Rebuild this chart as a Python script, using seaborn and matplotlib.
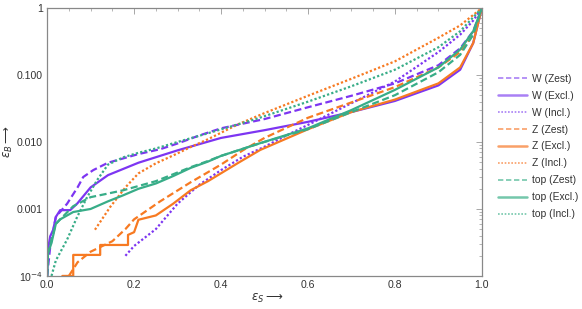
"""
Signal vs background efficiency curves (W / Z / top taggers).
"""

import matplotlib

matplotlib.use("Agg")
import matplotlib.pyplot as plt
import matplotlib.ticker as mticker
from matplotlib.lines import Line2D
import numpy as np
import pandas as pd
import seaborn as sns

# --- data (eps_S, eps_B) ---
w_zest_s = [0.0, 0.007, 0.02, 0.046, 0.07, 0.083, 0.106, 0.14, 0.21, 0.26, 0.3, 0.35, 0.4, 0.5, 0.6, 0.7, 0.8, 0.9, 0.95, 0.98, 1.0]
w_zest_b = [1e-4, 2.7e-4, 7.6e-4, 1.2e-3, 2.1e-3, 3.0e-3, 3.8e-3, 4.9e-3, 6.6e-3, 7.8e-3, 9.5e-3, 1.25e-2, 1.6e-2, 2.2e-2, 3.3e-2, 4.9e-2, 7.5e-2, 0.14, 0.25, 0.45, 1.0]

w_excl_s = [0.0, 0.002, 0.007, 0.014, 0.02, 0.03, 0.053, 0.069, 0.1, 0.14, 0.21, 0.3, 0.4, 0.5, 0.6, 0.7, 0.8, 0.9, 0.95, 0.98, 1.0]
w_excl_b = [1e-4, 2.5e-4, 3.9e-4, 4.9e-4, 7.6e-4, 9.6e-4, 9.6e-4, 1.2e-3, 2.1e-3, 3.2e-3, 4.9e-3, 7.5e-3, 1.15e-2, 1.5e-2, 2.0e-2, 2.8e-2, 4.1e-2, 7.0e-2, 0.12, 0.3, 1.0]

w_incl_s = [0.18, 0.2, 0.25, 0.3, 0.35, 0.4, 0.45, 0.5, 0.55, 0.6, 0.7, 0.8, 0.9, 0.95, 0.98, 1.0]
w_incl_b = [2e-4, 2.8e-4, 5e-4, 1.2e-3, 2.3e-3, 3.8e-3, 6e-3, 8.5e-3, 1.25e-2, 1.8e-2, 3.8e-2, 8e-2, 0.22, 0.4, 0.65, 1.0]

z_zest_s = [0.05, 0.07, 0.1, 0.15, 0.18, 0.2, 0.26, 0.33, 0.4, 0.45, 0.5, 0.6, 0.7, 0.8, 0.9, 0.95, 0.98, 1.0]
z_zest_b = [1e-4, 1.6e-4, 2.3e-4, 3.3e-4, 5e-4, 7e-4, 1.3e-3, 2.5e-3, 4.6e-3, 7.5e-3, 1.15e-2, 2.3e-2, 3.9e-2, 6.6e-2, 0.13, 0.22, 0.4, 1.0]

z_excl_s = [0.035, 0.06, 0.06, 0.06, 0.122, 0.122, 0.186, 0.186, 0.2, 0.21, 0.25, 0.29, 0.33, 0.37, 0.44, 0.49, 0.6, 0.7, 0.8, 0.9, 0.95, 0.98, 1.0]
z_excl_b = [1e-4, 1e-4, 1.5e-4, 2.06e-4, 2.06e-4, 2.9e-4, 2.9e-4, 4.1e-4, 4.5e-4, 6.9e-4, 8e-4, 1.2e-3, 1.9e-3, 2.6e-3, 4.9e-3, 7.6e-3, 1.55e-2, 2.8e-2, 4.3e-2, 7.5e-2, 0.13, 0.3, 1.0]

z_incl_s = [0.11, 0.145, 0.18, 0.21, 0.25, 0.29, 0.33, 0.37, 0.44, 0.5, 0.6, 0.7, 0.8, 0.9, 0.95, 1.0]
z_incl_b = [4.9e-4, 1.07e-3, 2.1e-3, 3.4e-3, 4.8e-3, 6.3e-3, 8.4e-3, 1.1e-2, 1.85e-2, 2.7e-2, 4.9e-2, 8.8e-2, 0.16, 0.36, 0.55, 1.0]

top_zest_s = [0.0, 0.002, 0.01, 0.02, 0.03, 0.06, 0.1, 0.14, 0.175, 0.21, 0.25, 0.29, 0.33, 0.37, 0.4, 0.45, 0.49, 0.6, 0.7, 0.8, 0.9, 0.95, 0.98, 1.0]
top_zest_b = [1e-4, 2.2e-4, 3.5e-4, 6e-4, 7e-4, 1.1e-3, 1.5e-3, 1.7e-3, 1.9e-3, 2.2e-3, 2.6e-3, 3.3e-3, 4.2e-3, 5.2e-3, 6.2e-3, 7.9e-3, 9.6e-3, 1.55e-2, 2.8e-2, 5.0e-2, 0.11, 0.2, 0.4, 1.0]

top_excl_s = [0.0, 0.002, 0.01, 0.02, 0.03, 0.06, 0.1, 0.14, 0.175, 0.21, 0.25, 0.29, 0.33, 0.37, 0.4, 0.45, 0.49, 0.6, 0.7, 0.8, 0.9, 0.95, 0.98, 1.0]
top_excl_b = [1e-4, 2.2e-4, 3.1e-4, 6e-4, 7e-4, 9e-4, 1.0e-3, 1.3e-3, 1.6e-3, 2.0e-3, 2.4e-3, 3.1e-3, 4.1e-3, 5.1e-3, 6.2e-3, 7.9e-3, 9.6e-3, 1.6e-2, 3.0e-2, 6.0e-2, 0.13, 0.24, 0.45, 1.0]

top_incl_s = [0.01, 0.02, 0.046, 0.069, 0.092, 0.115, 0.14, 0.175, 0.21, 0.25, 0.3, 0.37, 0.48, 0.6, 0.7, 0.8, 0.9, 0.95, 1.0]
top_incl_b = [1e-4, 1.7e-4, 3.5e-4, 7.6e-4, 1.5e-3, 2.7e-3, 4.6e-3, 5.9e-3, 6.9e-3, 8.0e-3, 1.0e-2, 1.35e-2, 2.2e-2, 4.0e-2, 6.8e-2, 0.12, 0.26, 0.45, 1.0]

x_ticks = [0.0, 0.2, 0.4, 0.6, 0.8, 1.0]
x_tick_labels = ["0.0", "0.2", "0.4", "0.6", "0.8", "1.0"]
y_ticks = [1e-4, 1e-3, 1e-2, 1e-1, 1.0]
y_tick_labels = ["10$^{-4}$", "0.001", "0.010", "0.100", "1"]

PURPLE = "#7d35f2"
ORANGE = "#f77a22"
GREEN = "#38ad88"
LEG_COLORS = {PURPLE: "#a980f5", ORANGE: "#f9a068", GREEN: "#74c7ab"}

DASHED = (0, (3.2, 1.6))
DOTTED = (0, (1.0, 1.0))

series = [
    ("W (Zest)", w_zest_s, w_zest_b, PURPLE, DASHED),
    ("W (Excl.)", w_excl_s, w_excl_b, PURPLE, "-"),
    ("W (Incl.)", w_incl_s, w_incl_b, PURPLE, DOTTED),
    ("Z (Zest)", z_zest_s, z_zest_b, ORANGE, DASHED),
    ("Z (Excl.)", z_excl_s, z_excl_b, ORANGE, "-"),
    ("Z (Incl.)", z_incl_s, z_incl_b, ORANGE, DOTTED),
    ("top (Zest)", top_zest_s, top_zest_b, GREEN, DASHED),
    ("top (Excl.)", top_excl_s, top_excl_b, GREEN, "-"),
    ("top (Incl.)", top_incl_s, top_incl_b, GREEN, DOTTED),
]

sns.set_theme(style="white")
plt.rcParams["font.family"] = ["Liberation Sans", "DejaVu Sans"]

fig = plt.figure(figsize=(5.82, 3.09), dpi=100)
ax = fig.add_axes([0.081, 0.107, 0.747, 0.867])

for name, s, b, color, ls in series:
    df = pd.DataFrame({"eps_s": s, "eps_b": b})
    sns.lineplot(
        data=df, x="eps_s", y="eps_b", ax=ax, color=color, linestyle=ls,
        linewidth=1.6, sort=False, estimator=None, legend=False,
    )

ax.set_yscale("log")
ax.set_xlim(0, 1)
ax.set_ylim(1e-4, 1)

ax.set_xticks(x_ticks)
ax.set_xticklabels(x_tick_labels)
ax.xaxis.set_minor_locator(mticker.MultipleLocator(0.05))
ax.set_yticks(y_ticks)
ax.set_yticklabels(y_tick_labels)
ax.yaxis.set_minor_locator(mticker.LogLocator(base=10, subs=np.arange(2, 10)))
ax.yaxis.set_minor_formatter(mticker.NullFormatter())

ax.tick_params(which="both", direction="in", top=True, right=True,
               colors="#999999", labelcolor="#333333", labelsize=7.6)
ax.tick_params(which="major", length=4, width=0.6, pad=3)
ax.tick_params(which="minor", length=2, width=0.5)
for sp in ax.spines.values():
    sp.set_color("#888888")
    sp.set_linewidth(0.9)

ax.set_xlabel(r"$\epsilon_S$$\longrightarrow$", fontsize=8.5, color="#333333")
ax.set_ylabel(r"$\epsilon_B$$\longrightarrow$", fontsize=8.5, color="#333333")
ax.xaxis.set_label_coords(0.506, -0.058)
ax.yaxis.set_label_coords(-0.074, 0.5)

handles = [
    Line2D([0], [0], color=LEG_COLORS[c], linestyle=ls, linewidth=1.2 if ls != "-" else 1.8)
    for _, _, _, c, ls in series
]
leg = fig.legend(
    handles, [n[0] for n in series], loc="upper left", bbox_to_anchor=(0.855, 0.762),
    frameon=False, fontsize=7.4, handlelength=2.9, labelspacing=0.68, handletextpad=0.4,
    borderaxespad=0.0, borderpad=0.0,
)
for t in leg.get_texts():
    t.set_color("#333333")

fig.savefig("out.png", dpi=100)
plt.close(fig)
